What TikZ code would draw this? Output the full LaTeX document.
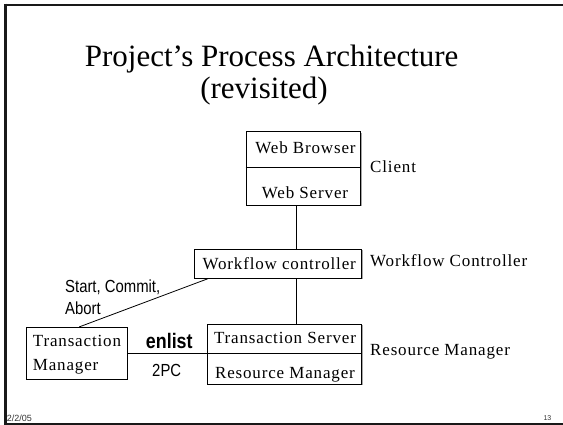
\documentclass[tikz,border=0pt]{standalone}
\usepackage{fontspec}
\setmainfont{Liberation Serif}
\setsansfont{Liberation Sans}
\newfontfamily\cellfont[LetterSpace=5]{Liberation Serif}
\newfontfamily\narrowsans[FakeStretch=0.85]{Liberation Sans}
\usetikzlibrary{shadows}

\begin{document}
\begin{tikzpicture}[x=1pt, y=-1pt,
  frame/.style={line width=2.2pt, draw=black!90},
  box/.style={draw, fill=white, line width=0.8pt, inner sep=0pt,
    drop shadow={shadow xshift=1.1pt, shadow yshift=-1.1pt, fill=black!35, opacity=1}},
  rule/.style={line width=0.8pt},
  heading/.style={font=\fontsize{31}{33}\selectfont, inner sep=0pt, anchor=base},
  cell/.style={font=\fontsize{17}{19}\cellfont, inner sep=0pt, anchor=base},
  role/.style={cell, anchor=base west},
  msg/.style={font=\fontsize{17.5}{20}\narrowsans, inner sep=0pt, anchor=base west},
  foot/.style={font=\fontsize{9}{11}\sffamily, text=black!80, inner sep=0pt, anchor=base west}]
\useasboundingbox (0,0) rectangle (563,424);
% ---- slide frame
\draw[frame] (4.3,4.6) -- (563,4.6);
\draw[frame] (5.5,3.5) -- (5.5,424);
\draw[frame] (4.3,423.6) -- (563,423.6);
% ---- title
\node[heading] (title) at (271.7,66.7) {Project's Process Architecture};
\node[heading] (subtitle) at (264,98) {(revisited)};
% ---- boxes
\node[box, minimum width=114.7pt, minimum height=73.3pt] (web) at (303.35,168.35) {};
\draw[rule] ([yshift=-35.6pt]web.north west) -- ([yshift=-35.6pt]web.north east);
\node[box, minimum width=167.7pt, minimum height=29pt] (wfc) at (277.85,263.8) {};
\node[box, minimum width=154.4pt, minimum height=59.7pt] (rm) at (284.5,354.15) {};
\draw[rule] ([yshift=-29pt]rm.north west) -- ([yshift=-29pt]rm.north east);
\node[box, minimum width=101.3pt, minimum height=51.7pt] (tm) at (76.65,353.15) {};
% ---- box texts
\node[cell] (wbt) at (305.5,153.3) {Web Browser};
\node[cell] (wst) at (305,198.3) {Web Server};
\node[cell] (wfct) at (279.2,269.3) {Workflow controller};
\node[cell] (tst) at (285,343.3) {Transaction Server};
\node[cell] (rmt) at (285,378.3) {Resource Manager};
\node[role] (tmt) at (32.7,346) {Transaction};
\node[role] (tmb) at (32.7,370.7) {Manager};
% ---- side labels
\node[role] (client) at (370,172.3) {Client};
\node[role] (wfcl) at (370,266.7) {Workflow Controller};
\node[role] (rml) at (370,355) {Resource Manager};
% ---- connectors
\coordinate (spine) at (296,0);
\draw[rule] (spine |- web.south) -- (spine |- wfc.north);
\draw[rule] (spine |- wfc.south) -- (spine |- rm.north);
\draw[rule] ([xshift=2.6pt]tm.north) -- ([xshift=14.3pt]wfc.south west);
\draw[rule] (tm.east) -- (tm.east -| rm.west);
\node[msg] (scl) at (65,292.7) {Start, Commit,};
\node[msg] (abl) at (65,314) {Abort};
\node[msg, font=\fontsize{21}{24}\narrowsans\bfseries, anchor=base] (enlist) at (169.3,348.3) {enlist};
\node[msg, anchor=base] (twopc) at (166.7,376) {2PC};
% ---- footer
\node[foot] (date) at (6.7,421.7) {2/2/05};
\node[foot, font=\fontsize{7}{8}\sffamily] (page) at (543.3,420) {13};
\end{tikzpicture}
\end{document}
